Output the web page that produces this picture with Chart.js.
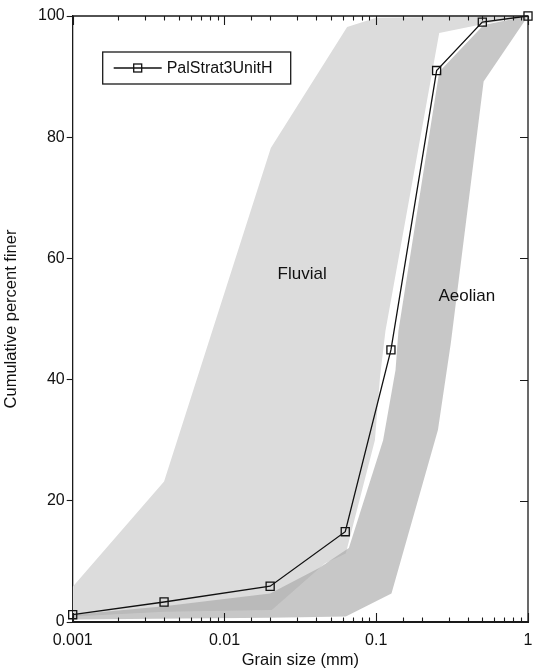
<!DOCTYPE html>
<html>
<head>
<meta charset="utf-8">
<title>Cumulative grain size distribution</title>
<script src="https://cdn.jsdelivr.net/npm/chart.js@4.4.1/dist/chart.umd.min.js"></script>
<style>
  html, body { margin: 0; padding: 0; background: #ffffff; }
  #wrap { width: 535px; height: 670px; }
</style>
</head>
<body>
<div id="wrap"><canvas id="chart" width="535" height="670"></canvas></div>
<script>
// Sample curve: grain size (mm) vs cumulative percent finer
const sampleName = 'PalStrat3UnitH';
const grainSize = [0.001, 0.004, 0.02, 0.0625, 0.125, 0.25, 0.5, 1];
const percentFiner = [1.2, 3.3, 5.9, 14.9, 44.9, 91, 99, 100];

// Fluvial envelope outline (closed polygon)
const fluvialX = [0.001, 0.004, 0.0202, 0.0643, 0.1, 1, 0.49, 0.26, 0.115, 0.106, 0.098, 0.063, 0.046, 0.0205, 0.004, 0.001];
const fluvialY = [5.8, 23.2, 78.2, 98.2, 99.7, 100, 98.6, 97.2, 48, 40.5, 30, 11.3, 9.7, 2.0, 1.7, 0.9];

// Aeolian envelope outline (closed polygon)
const aeolianX = [0.001, 0.004, 0.02, 0.042, 0.066, 0.111, 0.134, 0.14, 0.26, 0.51, 1, 0.51, 0.31, 0.255, 0.126, 0.063, 0.02, 0.001];
const aeolianY = [1.2, 2.6, 4.7, 8.9, 12.2, 30, 41.6, 48, 90.8, 98.5, 100, 89.2, 46, 31.7, 4.7, 0.9, 0.7, 0.4];

// Envelope names and where they are written (mm, %)
const envelopeLabels = ['Fluvial', 'Aeolian'];
const envelopeLabelX = [0.0325, 0.395];
const envelopeLabelY = [57.3, 53.7];

// Axis ticks
const xTickLabels = ['0.001', '0.01', '0.1', '1'];
const yTickStep = 20;

const toPoints = (xs, ys) => xs.map((v, i) => ({ x: v, y: ys[i] }));
const isDecade = (v) => Math.abs(Math.log10(v) - Math.round(Math.log10(v))) < 1e-9;

const FONT = '"Liberation Sans", Arial, Helvetica, sans-serif';
const INK = '#111111';

// Inside tick marks on the top, bottom and right sides plus the top and right frame lines
const frameTicks = {
  id: 'frameTicks',
  afterDraw(chart) {
    const { ctx, chartArea: a, scales: { x, y } } = chart;
    ctx.save();
    ctx.strokeStyle = '#1a1a1a';
    ctx.lineWidth = 1.3;
    ctx.beginPath();
    ctx.moveTo(a.left, a.top);
    ctx.lineTo(a.right, a.top);
    ctx.lineTo(a.right, a.bottom);
    ctx.stroke();
    ctx.lineWidth = 1.1;
    ctx.beginPath();
    for (const t of x.ticks) {
      const px = Math.round(x.getPixelForValue(t.value)) + 0.5;
      const len = isDecade(t.value) ? 9 : 4.5;
      ctx.moveTo(px, a.bottom);
      ctx.lineTo(px, a.bottom - len);
      ctx.moveTo(px, a.top);
      ctx.lineTo(px, a.top + len);
    }
    for (const t of y.ticks) {
      const py = Math.round(y.getPixelForValue(t.value)) + 0.5;
      ctx.moveTo(a.right, py);
      ctx.lineTo(a.right - 8, py);
    }
    ctx.stroke();
    ctx.restore();
  }
};

// Envelope names written inside the shaded fields
const envelopeText = {
  id: 'envelopeText',
  afterDatasetsDraw(chart) {
    const { ctx, scales: { x, y } } = chart;
    ctx.save();
    ctx.fillStyle = INK;
    ctx.font = '17px ' + FONT;
    ctx.textAlign = 'center';
    ctx.textBaseline = 'middle';
    envelopeLabels.forEach((txt, i) => {
      ctx.fillText(txt, x.getPixelForValue(envelopeLabelX[i]), y.getPixelForValue(envelopeLabelY[i]));
    });
    ctx.restore();
  }
};

// Boxed legend in the upper-left corner of the plot
const boxedLegend = {
  id: 'boxedLegend',
  afterDraw(chart) {
    const { ctx, chartArea: a } = chart;
    const ds = chart.data.datasets[0];
    const bx = a.left + 30, by = a.top + 36, bw = 188, bh = 32;
    const cy = by + bh / 2;
    ctx.save();
    ctx.fillStyle = '#ffffff';
    ctx.fillRect(bx, by, bw, bh);
    ctx.strokeStyle = '#1a1a1a';
    ctx.lineWidth = 1.3;
    ctx.strokeRect(bx, by, bw, bh);
    ctx.strokeStyle = ds.borderColor;
    ctx.lineWidth = ds.borderWidth;
    ctx.beginPath();
    ctx.moveTo(bx + 11, cy);
    ctx.lineTo(bx + 59, cy);
    ctx.stroke();
    ctx.strokeRect(bx + 31, cy - 4, 8, 8);
    ctx.fillStyle = INK;
    ctx.font = '16px ' + FONT;
    ctx.textAlign = 'left';
    ctx.textBaseline = 'middle';
    ctx.fillText(ds.label, bx + 64, cy + 0.5);
    ctx.restore();
  }
};

new Chart(document.getElementById('chart'), {
  type: 'scatter',
  data: {
    datasets: [
      {
        label: sampleName,
        data: toPoints(grainSize, percentFiner),
        showLine: true,
        borderColor: INK,
        borderWidth: 1.3,
        pointStyle: 'rect',
        pointRadius: 5.7,
        pointBorderColor: INK,
        pointBackgroundColor: 'rgba(0,0,0,0)',
        pointBorderWidth: 1.3,
        fill: false,
        clip: false,
        order: 0
      },
      {
        label: 'Aeolian',
        data: toPoints(aeolianX, aeolianY),
        showLine: true,
        borderWidth: 0,
        pointRadius: 0,
        backgroundColor: 'rgba(165,165,165,0.62)',
        fill: 'shape',
        order: 1
      },
      {
        label: 'Fluvial',
        data: toPoints(fluvialX, fluvialY),
        showLine: true,
        borderWidth: 0,
        pointRadius: 0,
        backgroundColor: '#dcdcdc',
        fill: 'shape',
        order: 2
      }
    ]
  },
  options: {
    responsive: false,
    devicePixelRatio: 1,
    animation: false,
    events: [],
    layout: { padding: { left: 0, right: 5, top: 16, bottom: 0 } },
    plugins: {
      legend: { display: false },
      tooltip: { enabled: false },
      title: { display: false }
    },
    scales: {
      x: {
        type: 'logarithmic',
        position: 'bottom',
        min: 0.001,
        max: 1,
        afterFit: (s) => { s.height = 48; s.paddingRight = 0; s.paddingLeft = 0; },
        grid: { display: true, drawOnChartArea: false, drawTicks: true, tickLength: 8.5, tickColor: 'rgba(0,0,0,0)' },
        border: { display: true, color: '#1a1a1a', width: 2 },
        ticks: {
          autoSkip: false,
          maxRotation: 0,
          padding: 0,
          color: INK,
          font: { family: FONT, size: 16 },
          callback: (v) => isDecade(v) ? xTickLabels[Math.round(Math.log10(v)) + 3] : ''
        },
        title: {
          display: true,
          text: 'Grain size (mm)',
          color: INK,
          font: { family: FONT, size: 16.5 },
          padding: { top: 0, bottom: 0 }
        }
      },
      y: {
        type: 'linear',
        position: 'left',
        min: 0,
        max: 100,
        afterFit: (s) => { s.width = 72.7; },
        grid: { display: true, drawOnChartArea: false, drawTicks: true, tickLength: 6, tickColor: '#1a1a1a', tickWidth: 1.1 },
        border: { display: true, color: '#1a1a1a', width: 1.3 },
        ticks: {
          stepSize: yTickStep,
          padding: 2,
          color: INK,
          font: { family: FONT, size: 16 }
        },
        title: {
          display: true,
          text: 'Cumulative percent finer',
          color: INK,
          font: { family: FONT, size: 16.5 },
          padding: { top: 2, bottom: 0 }
        }
      }
    }
  },
  plugins: [envelopeText, frameTicks, boxedLegend]
});
</script>
</body>
</html>
